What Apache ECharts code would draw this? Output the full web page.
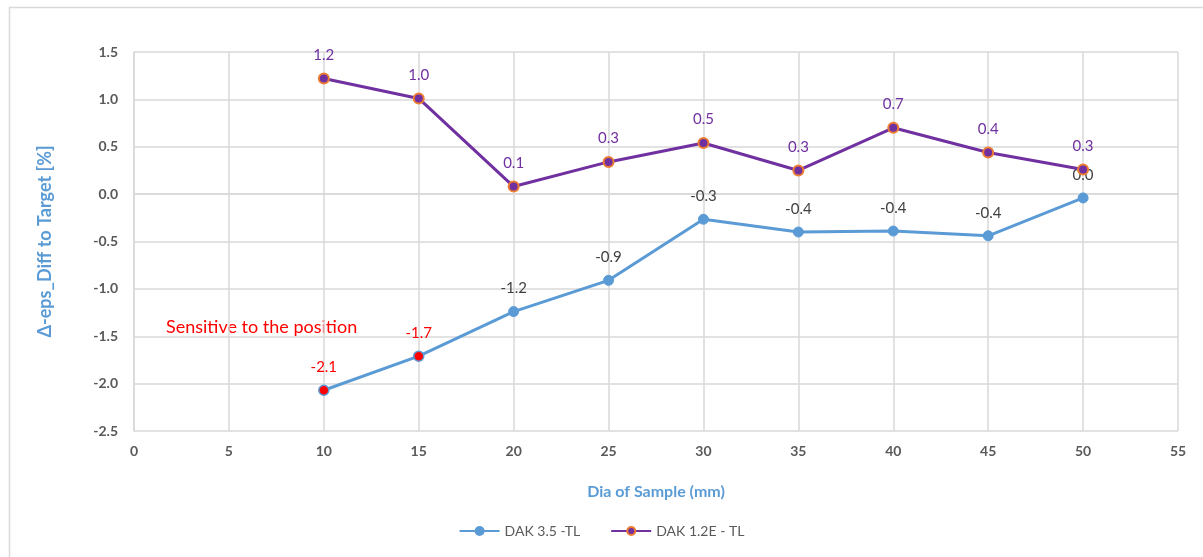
<!DOCTYPE html>
<html>
<head>
<meta charset="utf-8">
<script src="https://cdn.jsdelivr.net/npm/echarts@6/dist/echarts.min.js"></script>
<style>
  html, body { margin: 0; padding: 0; background: #fff; }
  #main { width: 1203px; height: 557px; }
</style>
</head>
<body>
<div id="main"></div>
<script>
// sample diameters (mm)
const diaList = [10, 15, 20, 25, 30, 35, 40, 45, 50];
// DAK 3.5 -TL
const dak35 = [-2.07, -1.71, -1.24, -0.91, -0.265, -0.40, -0.39, -0.44, -0.04];
// DAK 1.2E - TL
const dak12e = [1.22, 1.01, 0.08, 0.34, 0.54, 0.25, 0.70, 0.44, 0.26];
// points flagged as position sensitive (red)
const sensitiveDia = [10, 15];

const fontFamily = 'Lato, "Liberation Sans", sans-serif';

const fmt = (v) => {
  let s = v.toFixed(1);
  if (s === '-0.0') s = '0.0';
  return s;
};

const blueData = diaList.map((d, i) => {
  const item = { value: [d, dak35[i]] };
  if (sensitiveDia.indexOf(d) >= 0) {
    item.itemStyle = { color: '#FF0000', borderColor: '#5B9BD5', borderWidth: 1.5 };
    item.label = { color: '#FF0000' };
  }
  return item;
});

const purpleData = diaList.map((d, i) => [d, dak12e[i]]);

const chart = echarts.init(document.getElementById('main'));

const option = {
  backgroundColor: '#fff',
  textStyle: { fontFamily: fontFamily },
  animation: false,
  graphic: [
    {
      type: 'rect',
      left: 7, top: 5,
      shape: { width: 1300, height: 700 },
      style: { fill: 'none', stroke: '#D9D9D9', lineWidth: 1.5 },
      z: -1
    },
    {
      type: 'text',
      left: 166, top: 318,
      style: { text: 'Sensitive to the position', fill: '#FF0000', font: '18px ' + fontFamily }
    }
  ],
  grid: { left: 134, right: 25, top: 52, bottom: 126 },
  legend: {
    bottom: 14,
    left: 'center',
    itemWidth: 40,
    itemHeight: 10,
    itemGap: 30,
    textStyle: { color: '#595959', fontSize: 14, fontFamily: fontFamily },
    data: ['DAK 3.5 -TL', 'DAK 1.2E - TL']
  },
  xAxis: {
    type: 'value',
    min: 0, max: 55, interval: 5,
    name: 'Dia of Sample (mm)',
    nameLocation: 'middle',
    nameGap: 53,
    nameTextStyle: { color: '#5B9BD5', fontWeight: 'bold', fontSize: 16, fontFamily: fontFamily },
    axisLine: { show: true, lineStyle: { color: '#D9D9D9', width: 1.5 } },
    axisTick: { show: false },
    axisLabel: { color: '#595959', fontSize: 14, fontWeight: 'bold', margin: 13 },
    splitLine: { show: true, lineStyle: { color: '#D9D9D9', width: 1.5 } }
  },
  yAxis: {
    type: 'value',
    min: -2.5, max: 1.5, interval: 0.5,
    name: '\u0394-eps_Diff to Target [%]',
    nameLocation: 'middle',
    nameGap: 80,
    nameTextStyle: { color: '#5B9BD5', fontWeight: 'bold', fontSize: 18, fontFamily: fontFamily },
    axisLine: { show: true, lineStyle: { color: '#D9D9D9', width: 1.5 } },
    axisTick: { show: false },
    axisLabel: { color: '#595959', fontSize: 14, fontWeight: 'bold', margin: 16, formatter: (v) => v.toFixed(1) },
    splitLine: { show: true, lineStyle: { color: '#D9D9D9', width: 1.5 } }
  },
  series: [
    {
      name: 'DAK 3.5 -TL',
      type: 'line',
      data: blueData,
      symbol: 'circle',
      symbolSize: 10,
      lineStyle: { color: '#5B9BD5', width: 3 },
      itemStyle: { color: '#5B9BD5', borderColor: '#5B9BD5', borderWidth: 1 },
      label: {
        show: true, position: 'top', distance: 10,
        color: '#404040', fontSize: 15, fontFamily: fontFamily,
        formatter: (p) => fmt(p.value[1])
      },
      z: 2
    },
    {
      name: 'DAK 1.2E - TL',
      type: 'line',
      data: purpleData,
      symbol: 'circle',
      symbolSize: 10,
      lineStyle: { color: '#7030A0', width: 3 },
      itemStyle: { color: '#7030A0', borderColor: '#ED7D31', borderWidth: 2 },
      label: {
        show: true, position: 'top', distance: 10,
        color: '#7030A0', fontSize: 15, fontFamily: fontFamily,
        formatter: (p) => fmt(p.value[1])
      },
      z: 3
    }
  ]
};

chart.setOption(option);
</script>
</body>
</html>
